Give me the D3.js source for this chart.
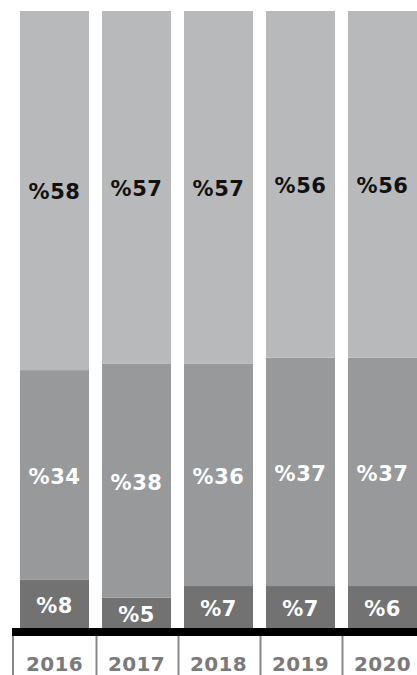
<!DOCTYPE html>
<html lang="en">
  <head>
    <meta charset="UTF-8" />
    <title>Stacked shares 2016-2020</title>
    <script src="https://d3js.org/d3.v7.min.js"></script>
    <style>
      html, body {
        margin: 0;
        padding: 0;
        background: #fff;
      }
      svg text {
        font-family: "DejaVu Sans", sans-serif;
        font-weight: bold;
      }
    </style>
  </head>
  <body>
    <div id="chart"></div>

    <script>
      const years = ["2016", "2017", "2018", "2019", "2020"];
      // shares (bottom -> top)
      const bottomValues = [7.8, 4.9, 6.8, 6.8, 6.8];
      const middleValues = [34.0, 37.9, 36.0, 37.0, 37.0];
      const topValues = [58.2, 57.2, 57.2, 56.2, 56.2];
      // printed labels
      const bottomLabels = ["%8", "%5", "%7", "%7", "%6"];
      const middleLabels = ["%34", "%38", "%36", "%37", "%37"];
      const topLabels = ["%58", "%57", "%57", "%56", "%56"];

      const width = 417;
      const height = 675;

      const rows = years.map((y, i) => ({
        year: y,
        bottom: bottomValues[i],
        middle: middleValues[i],
        top: topValues[i],
      }));
      const labels = {
        bottom: bottomLabels,
        middle: middleLabels,
        top: topLabels,
      };
      const keys = ["bottom", "middle", "top"];
      const colors = { bottom: "#727272", middle: "#98999b", top: "#b8b9bb" };
      const textColors = { bottom: "#fff", middle: "#fff", top: "#111" };

      const series = d3.stack().keys(keys).offset(d3.stackOffsetExpand)(rows);

      const x = d3
        .scaleBand()
        .domain(years)
        .range([20, 417])
        .paddingInner(13 / 82)
        .paddingOuter(0);

      const y = d3.scaleLinear().domain([0, 1]).range([628, 11]);

      const svg = d3
        .select("#chart")
        .append("svg")
        .attr("width", width)
        .attr("height", height);

      const layer = svg
        .selectAll("g.layer")
        .data(series)
        .join("g")
        .attr("class", "layer")
        .attr("fill", (s) => colors[s.key]);

      layer
        .selectAll("rect")
        .data((s) => s)
        .join("rect")
        .attr("x", (d) => x(d.data.year))
        .attr("y", (d) => y(d[1]))
        .attr("width", x.bandwidth())
        .attr("height", (d) => y(d[0]) - y(d[1]));

      layer
        .selectAll("text")
        .data((s) => s.map((d, i) => ({ d, key: s.key, i })))
        .join("text")
        .attr("x", (o) => x(o.d.data.year) + x.bandwidth() / 2)
        .attr("y", (o) => (y(o.d[0]) + y(o.d[1])) / 2)
        .attr("dy", "0.42em")
        .attr("text-anchor", "middle")
        .attr("font-size", 21)
        .attr("letter-spacing", 0.5)
        .attr("fill", (o) => textColors[o.key])
        .text((o) => labels[o.key][o.i]);

      // baseline
      svg
        .append("rect")
        .attr("x", 12)
        .attr("y", 628)
        .attr("width", width - 12)
        .attr("height", 8)
        .attr("fill", "#000");

      // separators between year labels
      const step = x.step();
      const seps = [12].concat(years.slice(1).map((yr) => x(yr) - (step - x.bandwidth()) / 2));
      svg
        .selectAll("line.sep")
        .data(seps)
        .join("line")
        .attr("class", "sep")
        .attr("x1", (d) => d + 1)
        .attr("x2", (d) => d + 1)
        .attr("y1", 636)
        .attr("y2", height)
        .attr("stroke", "#888")
        .attr("stroke-width", 2);

      svg
        .selectAll("text.year")
        .data(years)
        .join("text")
        .attr("class", "year")
        .attr("x", (d) => x(d) + x.bandwidth() / 2)
        .attr("y", 671)
        .attr("text-anchor", "middle")
        .attr("font-size", 20)
        .attr("letter-spacing", 0.3)
        .attr("fill", "#7a7a7a")
        .text((d) => d);
    </script>
  </body>
</html>
